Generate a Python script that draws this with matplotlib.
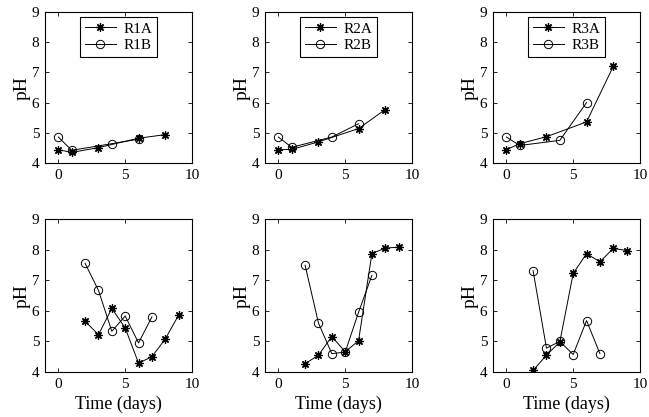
import matplotlib
matplotlib.use("Agg")
import matplotlib.pyplot as plt

plt.rcParams['font.family'] = ['Liberation Serif', 'DejaVu Serif']
plt.rcParams['font.size'] = 11

# early period (days 0-8)
t_a_early = [0, 1, 3, 6, 8]
t_b_early = [0, 1, 4, 6]
r1a_early = [4.44, 4.35, 4.51, 4.82, 4.94]
r1b_early = [4.86, 4.42, 4.64, 4.79]
r2a_early = [4.44, 4.45, 4.70, 5.14, 5.77]
r2b_early = [4.86, 4.52, 4.86, 5.30]
r3a_early = [4.44, 4.64, 4.87, 5.36, 7.20]
r3b_early = [4.86, 4.58, 4.75, 6.00]

# late period (days 2-9)
t_a_late = [2, 3, 4, 5, 6, 7, 8, 9]
t_b_late = [2, 3, 4, 5, 6, 7]
r1a_late = [5.66, 5.22, 6.08, 5.44, 4.29, 4.50, 5.08, 5.86]
r1b_late = [7.55, 6.67, 5.33, 5.83, 4.95, 5.80]
r2a_late = [4.27, 4.55, 5.16, 4.66, 5.02, 7.87, 8.05, 8.08]
r2b_late = [7.49, 5.60, 4.60, 4.65, 5.95, 7.16]
r3a_late = [4.05, 4.55, 4.98, 7.22, 7.87, 7.60, 8.04, 7.97]
r3b_late = [7.31, 4.78, 5.00, 4.57, 5.68, 4.60]

names = ["R1", "R2", "R3"]
early = [(r1a_early, r1b_early), (r2a_early, r2b_early), (r3a_early, r3b_early)]
late = [(r1a_late, r1b_late), (r2a_late, r2b_late), (r3a_late, r3b_late)]

# matlab-style asterisk: 8 spokes
STAR = (8, 2, 0)

fig = plt.figure(figsize=(6.49, 4.17), dpi=100)
lefts = [45, 265, 493]
W, H = 649.0, 417.0

def style(ax):
    ax.set_xlim(-1, 10)
    ax.set_ylim(4, 9)
    ax.set_xticks([0, 5, 10])
    ax.set_yticks([4, 5, 6, 7, 8, 9])
    ax.tick_params(direction='in', top=True, right=True, length=3,
                   width=0.6, labelsize=11, pad=4)
    for s in ax.spines.values():
        s.set_linewidth(0.8)
    ax.set_ylabel("pH", fontsize=14, labelpad=1)

for i in range(3):
    ax = fig.add_axes([lefts[i] / W, 1 - 163 / H, 147 / W, 151 / H])
    ya, yb = early[i]
    ax.plot(t_a_early, ya, '-k', marker=STAR, ms=6, lw=0.7,
            mfc='k', mec='k', mew=0.9, label=names[i] + "A")
    ax.plot(t_b_early, yb, '-k', marker='o', ms=6, lw=0.7,
            mfc='none', mec='k', mew=0.7, label=names[i] + "B")
    style(ax)
    leg = ax.legend(loc='upper center', fancybox=False, framealpha=1,
                    edgecolor='k', fontsize=11, handlelength=2.0,
                    borderpad=0.3, labelspacing=0.2, handletextpad=0.5,
                    borderaxespad=0.35)
    leg.get_frame().set_linewidth(0.8)

    ax = fig.add_axes([lefts[i] / W, 1 - 372 / H, 147 / W, 153 / H])
    ya, yb = late[i]
    ax.plot(t_a_late, ya, '-k', marker=STAR, ms=6, lw=0.7,
            mfc='k', mec='k', mew=0.9)
    ax.plot(t_b_late, yb, '-k', marker='o', ms=6, lw=0.7,
            mfc='none', mec='k', mew=0.7)
    style(ax)
    ax.set_xlabel("Time (days)", fontsize=13, labelpad=4)

fig.savefig("out.png", dpi=100)
